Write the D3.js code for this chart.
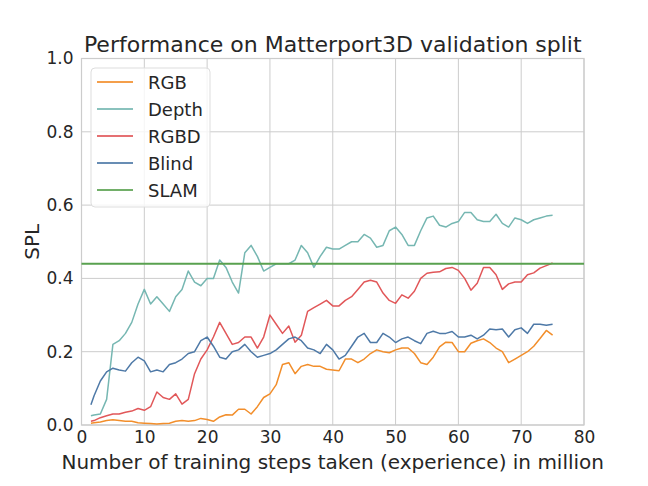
<!DOCTYPE html>
<html>
<head>
<meta charset="utf-8">
<script src="https://cdn.jsdelivr.net/npm/d3@7"></script>
<style>
  body { margin: 0; background: #fff; }
  text { font-family: "DejaVu Sans", sans-serif; fill: #262626; }
</style>
</head>
<body>
<div id="chart"></div>
<script>
// training steps (million)
var steps = [1.5, 2, 3, 4, 5, 6, 7, 8, 9, 10, 11, 12, 13, 14, 15, 16, 17, 18, 19, 20,
  21, 22, 23, 24, 25, 26, 27, 28, 29, 30, 31, 32, 33, 34, 35, 36, 37, 38, 39, 40,
  41, 42, 43, 44, 45, 46, 47, 48, 49, 50, 51, 52, 53, 54, 55, 56, 57, 58, 59, 60,
  61, 62, 63, 64, 65, 66, 67, 68, 69, 70, 71, 72, 73, 74, 75];

var rgb = [0.005, 0.006, 0.008, 0.012, 0.014, 0.012, 0.01, 0.01, 0.006, 0.005,
  0.004, 0.003, 0.004, 0.005, 0.01, 0.012, 0.01, 0.012, 0.018, 0.015,
  0.01, 0.022, 0.028, 0.027, 0.043, 0.043, 0.03, 0.05, 0.075, 0.085,
  0.11, 0.165, 0.17, 0.14, 0.16, 0.165, 0.16, 0.16, 0.152, 0.15,
  0.148, 0.18, 0.18, 0.17, 0.18, 0.195, 0.205, 0.2, 0.197, 0.205,
  0.21, 0.21, 0.195, 0.17, 0.165, 0.185, 0.213, 0.226, 0.225, 0.2,
  0.2, 0.223, 0.23, 0.235, 0.225, 0.21, 0.2, 0.17, 0.18, 0.19,
  0.2, 0.215, 0.236, 0.258, 0.245];

var depth = [0.025, 0.027, 0.03, 0.07, 0.22, 0.23, 0.25, 0.28, 0.33, 0.37,
  0.33, 0.35, 0.33, 0.31, 0.35, 0.37, 0.42, 0.39, 0.38, 0.4,
  0.4, 0.45, 0.43, 0.39, 0.36, 0.47, 0.49, 0.46, 0.42, 0.43,
  0.44, 0.44, 0.44, 0.45, 0.49, 0.47, 0.43, 0.46, 0.485, 0.48,
  0.48, 0.49, 0.5, 0.5, 0.52, 0.51, 0.485, 0.49, 0.53, 0.54,
  0.52, 0.49, 0.49, 0.53, 0.565, 0.57, 0.545, 0.54, 0.55, 0.555,
  0.58, 0.58, 0.56, 0.555, 0.555, 0.575, 0.55, 0.54, 0.565, 0.56,
  0.55, 0.56, 0.565, 0.57, 0.572];

var rgbd = [0.01, 0.012, 0.02, 0.025, 0.03, 0.03, 0.035, 0.038, 0.045, 0.04,
  0.05, 0.09, 0.075, 0.07, 0.085, 0.057, 0.07, 0.14, 0.18, 0.205,
  0.24, 0.28, 0.25, 0.22, 0.225, 0.24, 0.24, 0.21, 0.24, 0.3,
  0.275, 0.25, 0.27, 0.226, 0.245, 0.31, 0.32, 0.33, 0.34, 0.325,
  0.325, 0.34, 0.35, 0.37, 0.39, 0.395, 0.39, 0.36, 0.34, 0.332,
  0.355, 0.346, 0.365, 0.4, 0.414, 0.417, 0.418, 0.427, 0.43, 0.422,
  0.4, 0.368, 0.387, 0.43, 0.43, 0.41, 0.37, 0.385, 0.39, 0.39,
  0.41, 0.415, 0.428, 0.435, 0.442];

var blind = [0.055, 0.08, 0.12, 0.145, 0.155, 0.15, 0.147, 0.17, 0.185, 0.175,
  0.145, 0.15, 0.145, 0.165, 0.17, 0.18, 0.195, 0.2, 0.23, 0.24,
  0.215, 0.185, 0.18, 0.2, 0.205, 0.22, 0.2, 0.185, 0.19, 0.195,
  0.205, 0.22, 0.235, 0.24, 0.23, 0.21, 0.205, 0.195, 0.22, 0.205,
  0.18, 0.19, 0.215, 0.24, 0.25, 0.225, 0.225, 0.25, 0.24, 0.225,
  0.235, 0.24, 0.23, 0.222, 0.25, 0.256, 0.25, 0.25, 0.255, 0.24,
  0.24, 0.245, 0.235, 0.245, 0.262, 0.26, 0.262, 0.24, 0.26, 0.265,
  0.25, 0.275, 0.275, 0.272, 0.275];

var slam = 0.44;

var seriesNames = ["RGB", "Depth", "RGBD", "Blind", "SLAM"];
var seriesColors = ["#f28e2b", "#76b7b2", "#e15759", "#4e79a7", "#59a14f"];

var xTicks = [0, 10, 20, 30, 40, 50, 60, 70, 80];
var yTicks = [0, 0.2, 0.4, 0.6, 0.8, 1.0];

var w = 648;
var h = 486;
var pLeft = 81.5, pRight = 584, pTop = 58.5, pBottom = 425;

var svg = d3.select("#chart")
  .append("svg")
  .attr("width", w)
  .attr("height", h);

var xScale = d3.scaleLinear().domain([0, 80]).range([pLeft, pRight]);
var yScale = d3.scaleLinear().domain([0, 1]).range([pBottom, pTop]);

// grid
svg.append("g")
  .selectAll("line")
  .data(xTicks)
  .enter()
  .append("line")
  .attr("x1", function(d) { return xScale(d); })
  .attr("x2", function(d) { return xScale(d); })
  .attr("y1", pTop)
  .attr("y2", pBottom)
  .attr("stroke", "#cccccc")
  .attr("stroke-width", 1);

svg.append("g")
  .selectAll("line")
  .data(yTicks)
  .enter()
  .append("line")
  .attr("x1", pLeft)
  .attr("x2", pRight)
  .attr("y1", function(d) { return yScale(d); })
  .attr("y2", function(d) { return yScale(d); })
  .attr("stroke", "#cccccc")
  .attr("stroke-width", 1);

// axes (labels only, seaborn whitegrid style)
var xAxis = d3.axisBottom(xScale).tickValues(xTicks).tickSize(0).tickPadding(6)
  .tickFormat(d3.format("d"));
var yAxis = d3.axisLeft(yScale).tickValues(yTicks).tickSize(0).tickPadding(8)
  .tickFormat(d3.format(".1f"));

svg.append("g")
  .attr("class", "xAxis")
  .attr("transform", "translate(0," + pBottom + ")")
  .call(xAxis);
svg.append("g")
  .attr("class", "yAxis")
  .attr("transform", "translate(" + pLeft + ",0)")
  .call(yAxis);

svg.selectAll(".xAxis text, .yAxis text")
  .style("font-family", "DejaVu Sans")
  .style("font-size", "17px")
  .attr("fill", "#262626");
svg.selectAll(".xAxis .domain, .yAxis .domain").remove();

// frame
svg.append("rect")
  .attr("x", pLeft)
  .attr("y", pTop)
  .attr("width", pRight - pLeft)
  .attr("height", pBottom - pTop)
  .attr("fill", "none")
  .attr("stroke", "#cccccc")
  .attr("stroke-width", 1.2);

// lines
var line = d3.line()
  .x(function(d, i) { return xScale(steps[i]); })
  .y(function(d) { return yScale(d); });

var allSeries = [rgb, depth, rgbd, blind];
allSeries.forEach(function(s, i) {
  svg.append("path")
    .datum(s)
    .attr("d", line)
    .attr("fill", "none")
    .attr("stroke", seriesColors[i])
    .attr("stroke-width", 1.5)
    .attr("stroke-linejoin", "round");
});

svg.append("line")
  .attr("x1", pLeft)
  .attr("x2", pRight)
  .attr("y1", yScale(slam))
  .attr("y2", yScale(slam))
  .attr("stroke", seriesColors[4])
  .attr("stroke-width", 2);

// title and labels
svg.append("text")
  .attr("x", (pLeft + pRight) / 2)
  .attr("y", 52)
  .attr("text-anchor", "middle")
  .style("font-size", "22px")
  .text("Performance on Matterport3D validation split");

svg.append("text")
  .attr("x", (pLeft + pRight) / 2)
  .attr("y", 469)
  .attr("text-anchor", "middle")
  .style("font-size", "20px")
  .text("Number of training steps taken (experience) in million");

svg.append("text")
  .attr("transform", "translate(39," + ((pTop + pBottom) / 2) + ")rotate(-90)")
  .attr("text-anchor", "middle")
  .style("font-size", "20px")
  .text("SPL");

// legend
var legend = svg.append("g").attr("transform", "translate(91,68)");
legend.append("rect")
  .attr("width", 119)
  .attr("height", 139)
  .attr("rx", 4)
  .attr("fill", "#ffffff")
  .attr("fill-opacity", 0.8)
  .attr("stroke", "#dddddd");

seriesNames.forEach(function(name, i) {
  var y = 14 + i * 27;
  legend.append("line")
    .attr("x1", 6)
    .attr("x2", 42)
    .attr("y1", y)
    .attr("y2", y)
    .attr("stroke", seriesColors[i])
    .attr("stroke-opacity", 0.85)
    .attr("stroke-width", 2);
  legend.append("text")
    .attr("x", 57)
    .attr("y", y + 6.5)
    .style("font-size", "18px")
    .text(name);
});
</script>
</body>
</html>
